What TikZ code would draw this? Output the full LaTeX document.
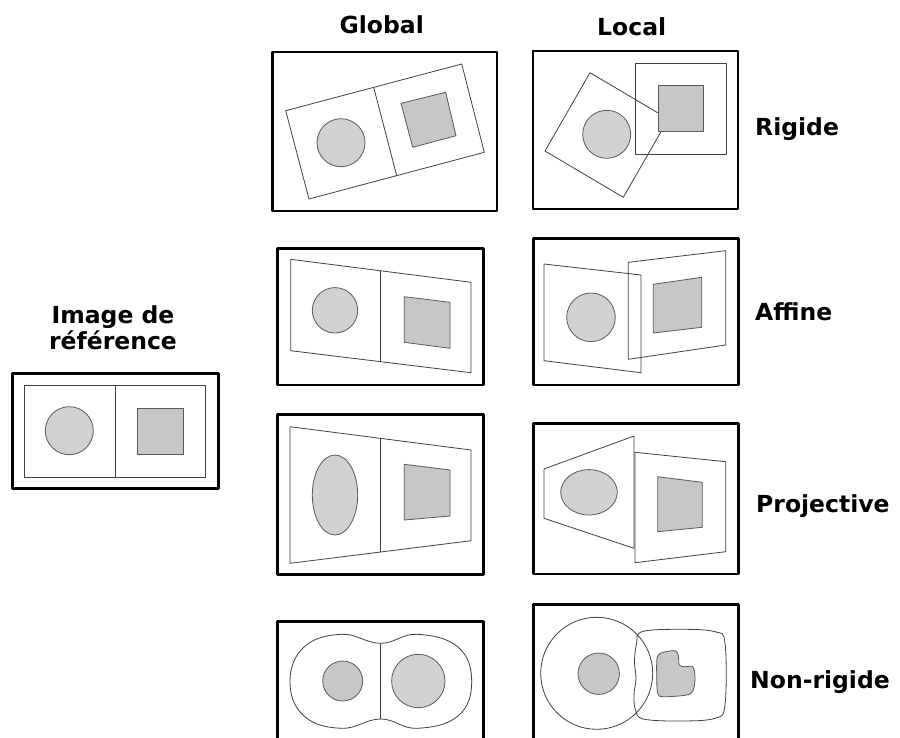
\documentclass[tikz,border=0pt]{standalone}
\usepackage{fontspec}
\setsansfont{DejaVu Sans}
\begin{document}
\begin{tikzpicture}[x=1pt,y=-1pt,
  frame/.style={draw=black,line width=2.6pt},
  ln/.style={draw=black!75,line width=0.8pt},
  gfill/.style={fill=black!22,draw=black!65,line width=0.8pt},
  cfill/.style={fill=black!18,draw=black!65,line width=0.8pt},
  lab/.style={font=\sffamily\bfseries\fontsize{23.5}{27}\selectfont,inner sep=0pt},
  line join=round]
\useasboundingbox (0,0) rectangle (900,737);
\clip (0,0) rectangle (900,737);
\fill[white] (0,0) rectangle (900,737);

% labels
\node[lab,anchor=base] (tglobal) at (381.7,33) {Global};
\node[lab,anchor=base] (tlocal) at (631.7,35) {Local};
\node[lab,anchor=base west] (trig) at (755,135) {Rigide};
\node[lab,anchor=base west] (taff) at (755,320) {Affine};
\node[lab,anchor=base west] (tproj) at (756,512) {Projective};
\node[lab,anchor=base west] (tnon) at (750,688) {Non-rigide};
\node[lab,anchor=base] (timg) at (113,323) {Image de};
\node[lab,anchor=base] (tref) at (113,349.5) {référence};

% reference image
\draw[frame] (12.3,373.3) rectangle (218.3,488.3);
\draw[ln] (24,385.7) rectangle (205.7,477.3);
\draw[ln] (115,385.7) -- (115,477.3);
\draw[cfill] (69.3,430.7) circle (24);
\draw[gfill] (137.7,408.7) rectangle (183.3,454);

% Global rigide
\draw[frame] (272.5,52) rectangle (497,211);
\draw[ln] (285.7,110.7) -- (461.7,64) -- (484.3,152.3) -- (309,199) -- cycle;
\draw[ln] (373.7,87.3) -- (396.7,175.7);
\draw[cfill] (341,142.7) circle (24);
\draw[gfill] (401,103.3) -- (445.7,92.3) -- (456,135.7) -- (412.7,147.3) -- cycle;

% Local rigide
\draw[frame] (533,51) rectangle (738,209);
\draw[ln] (590,72.7) -- (668.3,119) -- (623.3,197.3) -- (545,151) -- cycle;
\draw[cfill] (606.7,134.3) circle (24);
\draw[ln] (635,63.3) rectangle (726.7,154);
\draw[gfill] (658.3,85.7) rectangle (703.3,131.7);

% Global affine
\draw[frame] (277.3,248.3) rectangle (483.3,385);
\draw[ln] (290.7,259.3) -- (471,282.3) -- (471,372.7) -- (290.7,350.7) -- cycle;
\draw[ln] (380.5,270.8) -- (380.5,361.7);
\draw[cfill] (335,310.3) circle (22.7);
\draw[gfill] (404.3,296.7) -- (450,302.3) -- (450,348.3) -- (404.3,342.3) -- cycle;

% Local affine
\draw[frame] (533.3,238.3) rectangle (738.3,385);
\draw[ln] (544,264) -- (641,275) -- (641,372.7) -- (544,360.7) -- cycle;
\draw[ln] (628.3,262.3) -- (725.7,250.7) -- (725.7,345) -- (628.3,359.3) -- cycle;
\draw[cfill] (591,317.3) circle (24.3);
\draw[gfill] (653.3,284.3) -- (701.7,277.3) -- (701.7,327.3) -- (653.3,333) -- cycle;

% Global projective
\draw[frame] (277.3,414.3) rectangle (483.3,574.3);
\draw[ln] (290,426.7) -- (471,450) -- (471,540.7) -- (290,563.3) -- cycle;
\draw[ln] (380.7,438.3) -- (380.7,552);
\draw[cfill] (335,495) ellipse (22.7 and 40);
\draw[gfill] (404.3,464.3) -- (450,470) -- (450,516) -- (404.3,520) -- cycle;

% Local projective
\draw[frame] (533.3,423.3) rectangle (738.3,574);
\draw[ln] (544,469) -- (634,436) -- (634,548.3) -- (544,518.3) -- cycle;
\draw[ln] (635,452.3) -- (725.7,461.7) -- (725.7,551.7) -- (635,562.7) -- cycle;
\draw[cfill] (589,492.3) ellipse (28.3 and 22.7);
\draw[gfill] (657.7,476.7) -- (702.3,482.3) -- (702.3,527.3) -- (657.7,531.7) -- cycle;

% Global non-rigide
\draw[frame] (277.3,621.7) rectangle (483.3,760);
\draw[ln] plot[smooth cycle,tension=0.7] coordinates {(290,681.7) (304,647) (341.7,634.3) (380.7,643.3) (416.7,634.3) (458,647) (471.7,681.7) (458,716) (416.7,728.3) (380.7,719) (341.7,728.3) (304,716)};
\draw[ln] (380.7,643.3) -- (380.7,719);
\draw[gfill] (342.7,681) circle (20);
\draw[cfill] (418.3,681) circle (26.7);

% Local non-rigide
\draw[frame] (533.3,604.3) rectangle (738.3,760);
\draw[ln] (596.7,673.3) circle (56);
\draw[ln] plot[smooth cycle,tension=0.6] coordinates {(642,631.7) (680,629.3) (715,631.7) (725,643) (725,705) (715,718.3) (680,721) (643.3,719) (635.5,710) (634,695) (636,678.3) (634.5,661.7) (636.5,644)};
\draw[gfill] (598.7,673.7) circle (20.7);
\draw[gfill] plot[smooth cycle,tension=0.5] coordinates {(657.3,656.7) (663.3,652.3) (675,650.7) (678.3,655) (679.3,665) (685,666.7) (692.7,666.7) (695,676.7) (693.3,690) (686.7,695) (663.3,696.7) (657.7,693.3) (656.7,675)};
\end{tikzpicture}
\end{document}
